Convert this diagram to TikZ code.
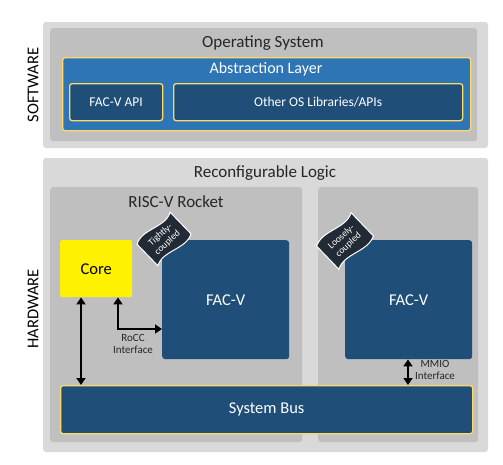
\documentclass[tikz,border=0pt]{standalone}
\usepackage{fontspec}
\setmainfont{Carlito}
\usetikzlibrary{arrows.meta,calc}
\definecolor{outergray}{HTML}{D9D9D9}
\definecolor{innergray}{HTML}{BFBFBF}
\definecolor{midblue}{HTML}{2E75B6}
\definecolor{darkblue}{HTML}{1F4E79}
\definecolor{gold}{HTML}{FFD966}
\definecolor{tagdark}{HTML}{222A35}
\tikzset{
  px/.style={x=1pt,y=-1pt},
  outerbox/.style={fill=outergray,draw=none,rounded corners=3pt},
  innerbox/.style={fill=innergray,draw=none,rounded corners=3pt},
  bluebox/.style={fill=midblue,draw=gold,line width=1.3pt,rounded corners=2.5pt},
  dbox/.style={fill=darkblue,draw=gold,line width=1.3pt,rounded corners=2.5pt},
  facbox/.style={fill=darkblue,draw=none,rounded corners=3pt},
  title/.style={font=\fontsize{17}{19}\selectfont,text=black!85},
  wtext/.style={font=\fontsize{16.5}{18}\selectfont,text=white},
  stext/.style={font=\fontsize{13.5}{15}\selectfont,text=white},
  lbl/.style={font=\fontsize{11}{11.5}\selectfont,text=black!85,align=center},
  side/.style={font=\fontsize{16.5}{18}\selectfont,rotate=90,text=black},
  conn/.style={line width=2.6pt,{Triangle[length=7pt,width=9pt]}-{Triangle[length=7pt,width=9pt]}},
  tagshape/.style={fill=tagdark,draw=white,line width=1pt},
  tagtext/.style={font=\fontsize{9.5}{10.5}\selectfont,text=white,align=center}
}
\begin{document}
\begin{tikzpicture}[px]
\useasboundingbox (0,0) rectangle (503,464);
% software
\path[outerbox] (43,22) rectangle (488,148);
\node[innerbox,minimum width=427pt,minimum height=113pt,anchor=north west] (os) at (50,28) {};
\node[title] (ostitle) at (263,43) {Operating System};
\node[bluebox,minimum width=408pt,minimum height=73pt,anchor=north west] (abs) at (62,57) {};
\node[wtext,font=\fontsize{16}{17}\selectfont] (abstitle) at (266,69) {Abstraction Layer};
\node[dbox,minimum width=93pt,minimum height=37pt,anchor=north west] (api) at (69,83) {};
\node[stext] at (api.center) {FAC-V API};
\node[dbox,minimum width=289pt,minimum height=37pt,anchor=north west] (libs) at (173,83) {};
\node[stext] at (libs.center) {Other OS Libraries/APIs};
\node[side] (sw) at (33,85) {SOFTWARE};
% hardware
\path[outerbox] (43,158) rectangle (488,452);
\node[title] (hwtitle) at (265,173) {Reconfigurable Logic};
\node[innerbox,minimum width=252pt,minimum height=255pt,anchor=north west] (rocket) at (50,187) {};
\node[innerbox,minimum width=160pt,minimum height=255pt,anchor=north west] (rpanel) at (318,187) {};
\node[title] (rockettitle) at (176,202) {RISC-V Rocket};
\node[fill=yellow,rounded corners=2pt,minimum width=72pt,minimum height=57pt,anchor=north west,font=\fontsize{16.5}{18}\selectfont] (core) at (60,240) {Core};
\node[facbox,minimum width=127pt,minimum height=119pt,anchor=north west,wtext] (facl) at (162,240) {FAC-V};
\node[facbox,minimum width=127pt,minimum height=119pt,anchor=north west,wtext] (facr) at (345,240) {FAC-V};
\node[dbox,minimum width=412pt,minimum height=48pt,anchor=north west,wtext] (bus) at (60,385) {System Bus};
\node[side] (hw) at (33,309) {HARDWARE};
% connectors
\draw[conn] ([xshift=21pt]core.south west) -- ([xshift=21pt]core.south west |- bus.north);
\draw[conn] ([xshift=58pt]core.south west) |- ([yshift=-89pt]facl.north west);
\node[lbl] (rocc) at (133,344) {RoCC\\Interface};
\draw[conn] ([xshift=63pt]facr.south west) -- ([xshift=63pt]facr.south west |- bus.north);
\node[lbl] (mmio) at (435,370) {MMIO\\Interface};
% tags
\begin{scope}[shift={(164,239)},x=1pt,y=1pt,rotate=44]
  \path[tagshape] (-23,-15) .. controls (-9,-7) and (9,-23) .. (23,-15) -- (23,15) .. controls (9,7) and (-9,23) .. (-23,15) -- cycle;
\end{scope}
\node[tagtext,rotate=42] (tight) at (164,239) {Tightly-\\coupled};
\begin{scope}[shift={(345,241)},x=1pt,y=1pt,rotate=44]
  \path[tagshape] (-24,-16) .. controls (-9,-8) and (9,-24) .. (24,-16) -- (24,16) .. controls (9,8) and (-9,24) .. (-24,16) -- cycle;
\end{scope}
\node[tagtext,rotate=42] (loose) at (345,241) {Loosely-\\coupled};
\end{tikzpicture}
\end{document}
